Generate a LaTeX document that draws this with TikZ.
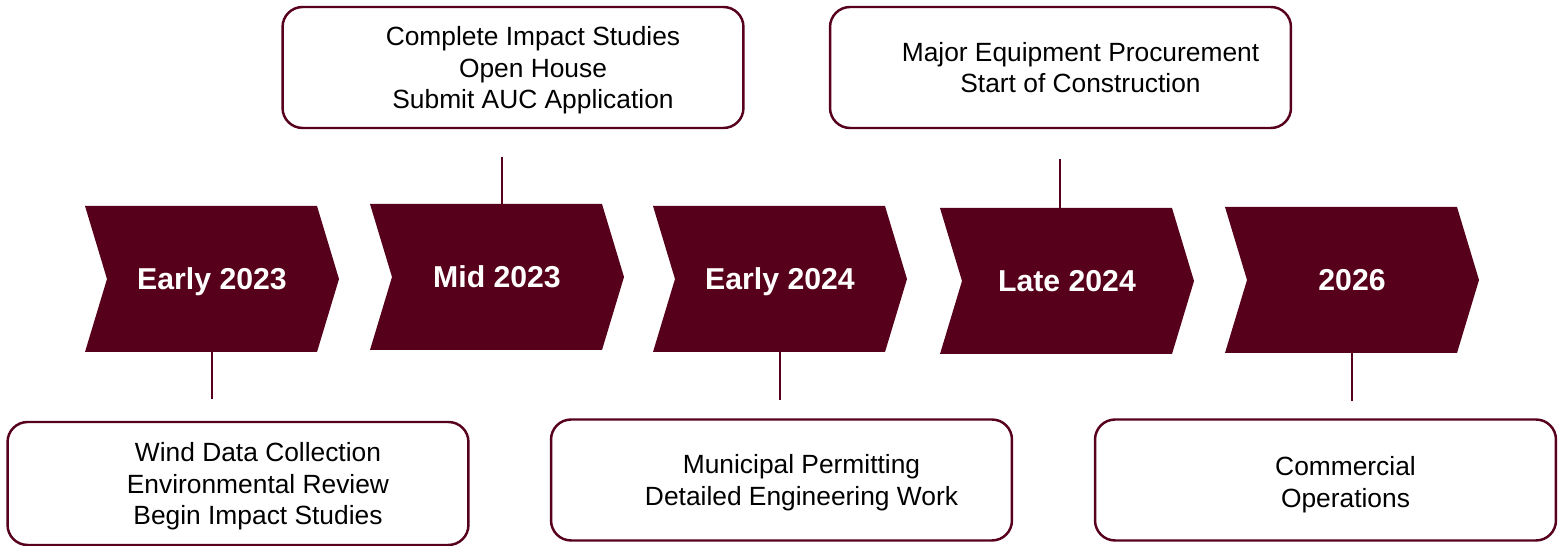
\documentclass[tikz,border=0pt]{standalone}
\usepackage{fontspec}
\setmainfont{Liberation Sans}
\usepackage{tikz}
\usetikzlibrary{positioning}
\definecolor{maroon}{HTML}{57001B}
\tikzset{
  chev/.style={text=white, font=\fontsize{17.2}{20}\selectfont\bfseries, minimum width=4.64cm, minimum height=2.92cm, inner sep=0pt, text depth=0pt},
  box/.style={draw=maroon, line width=1.4pt, rounded corners=0.4cm, inner sep=0pt, minimum width=9.22cm, minimum height=2.42cm},
  note/.style={align=center, font=\fontsize{15}{18.1}\selectfont, text depth=0pt},
  link/.style={draw=maroon, line width=1.2pt}
}

\begin{document}
\begin{tikzpicture}[x=0.02cm, y=-0.02cm]
    \useasboundingbox (0,0) rectangle (1562,546);

    % Draw the chevrons
    \foreach \x/\y/\n/\txt in {85/206/c1/Early 2023, 370/204/c2/Mid 2023, 653/206/c3/Early 2024, 940/208/c4/Late 2024, 1225/207/c5/2026} {
        \fill[maroon] (\x,\y) -- ++(232,0) -- ++(22,73) -- ++(-22,73) -- ++(-232,0) -- ++(22,-73) -- cycle;
        \node[chev] (\n) at (\x+127,\y+73) {\txt};
    }

    % Draw the boxes
    \node[box, minimum height=2.46cm] (b1) at (238,483.5) {};
    \node[box] (b2) at (513,67.5) {};
    \node[box] (b3) at (781.5,480) {};
    \node[box] (b4) at (1060.5,67.5) {};
    \node[box] (b5) at (1325.5,480) {};

    % Box texts
    \node[note, xshift=0.4cm] (t1) at (b1) {Wind Data Collection\\Environmental Review\\Begin Impact Studies};
    \node[note, xshift=0.4cm] (t2) at (b2) {Complete Impact Studies\\Open House\\Submit AUC Application};
    \node[note, xshift=0.4cm] (t3) at (b3) {Municipal Permitting\\Detailed Engineering Work};
    \node[note, xshift=0.4cm] (t4) at (b4) {Major Equipment Procurement\\Start of Construction};
    \node[note, xshift=0.4cm, yshift=-0.04cm] (t5) at (b5) {Commercial\\Operations};

    % Connect chevrons to boxes
    \draw[link, shorten >=0.44cm] (c1.south) -- (c1.south |- b1.north);
    \draw[link, shorten >=0.56cm] ([xshift=0.1cm]c2.north) -- ([xshift=0.1cm]c2.north |- b2.south);
    \draw[link, shorten >=0.36cm] (c3.south) -- (c3.south |- b3.north);
    \draw[link, shorten >=0.6cm] ([xshift=-0.14cm]c4.north) -- ([xshift=-0.14cm]c4.north |- b4.south);
    \draw[link, shorten >=0.34cm] (c5.south) -- (c5.south |- b5.north);
\end{tikzpicture}
\end{document}
